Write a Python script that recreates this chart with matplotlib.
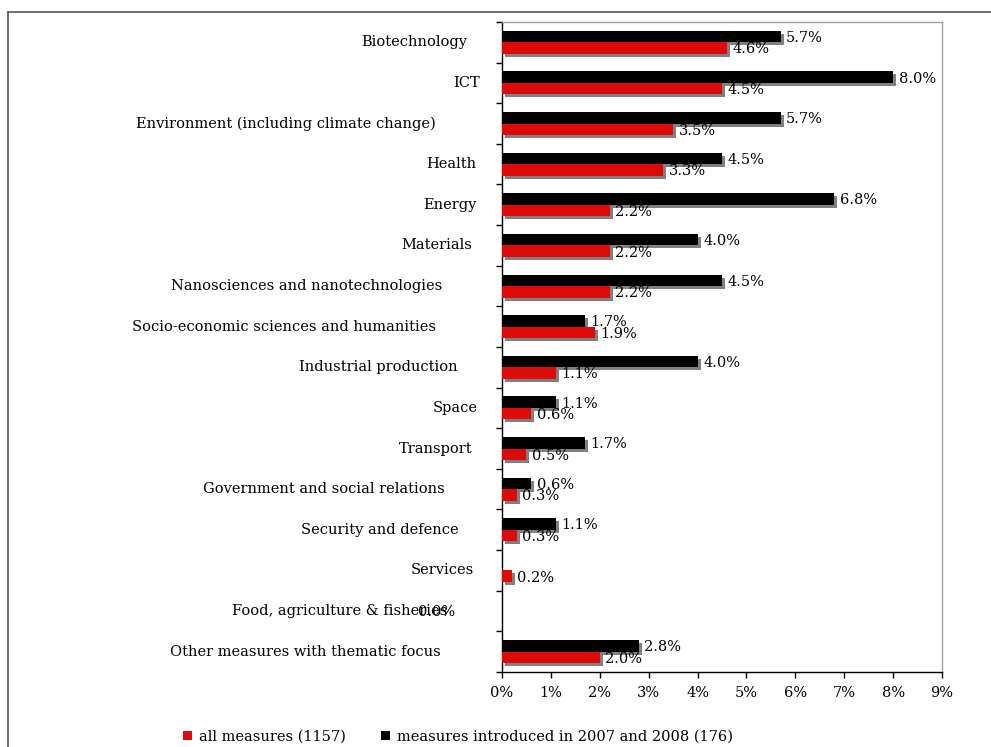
import matplotlib
matplotlib.use('Agg')
import matplotlib.pyplot as plt
from matplotlib.patches import Patch
from matplotlib.lines import Line2D
from matplotlib.transforms import ScaledTranslation
import numpy as np

# thematic areas, top to bottom
categories = [
    'Biotechnology', 'ICT', 'Environment (including climate change)', 'Health',
    'Energy', 'Materials', 'Nanosciences and nanotechnologies',
    'Socio-economic sciences and humanities', 'Industrial production', 'Space',
    'Transport', 'Government and social relations', 'Security and defence',
    'Services', 'Food, agriculture & fisheries', 'Other measures with thematic focus',
]
# share of measures, %
all_measures = [4.6, 4.5, 3.5, 3.3, 2.2, 2.2, 2.2, 1.9, 1.1, 0.6, 0.5, 0.3, 0.3, 0.2, 0.0, 2.0]
new_measures = [5.7, 8.0, 5.7, 4.5, 6.8, 4.0, 4.5, 1.7, 4.0, 1.1, 1.7, 0.6, 1.1, 0.0, 0.0, 2.8]
x_ticks = [0, 1, 2, 3, 4, 5, 6, 7, 8, 9]

label_all = 'all measures (1157)'
label_new = 'measures introduced in 2007 and 2008 (176)'

RED = '#dd0a0a'
SHADOW = '#808080'

plt.rcParams['font.family'] = ['DejaVu Serif']
plt.rcParams['font.size'] = 10.5

fig = plt.figure(figsize=(9.91, 7.47), dpi=100)
ax = fig.add_axes([502 / 991, 75 / 747, 440 / 991, 650 / 747])

y = np.arange(len(categories))
h = 0.284

# drop shadow: same bars shifted 3px right and 3px down
shadow = ax.transData + ScaledTranslation(3 / 100, -3 / 100, fig.dpi_scale_trans)
ax.barh(y - h / 2, new_measures, height=h, color=SHADOW, transform=shadow, zorder=1)
ax.barh(y + h / 2, all_measures, height=h, color=SHADOW, transform=shadow, zorder=1)
ax.barh(y - h / 2, new_measures, height=h, color='black', zorder=2)
ax.barh(y + h / 2, all_measures, height=h, color=RED, zorder=3)

food = 'Food, agriculture & fisheries'
for i, name in enumerate(categories):
    if name == food:
        continue
    if name != 'Services':
        ax.annotate(f'{new_measures[i]:.1f}%', xy=(new_measures[i], i - h / 2),
                    xytext=(4, -1), textcoords='offset points', ha='left', va='center', zorder=4)
    ax.annotate(f'{all_measures[i]:.1f}%', xy=(all_measures[i], i + h / 2),
                xytext=(4, -1), textcoords='offset points', ha='left', va='center', zorder=4)
fi = categories.index(food)
ax.annotate(f'{all_measures[fi]:.1f}%', xy=(all_measures[fi], fi),
            xytext=(-34, -1), textcoords='offset points', ha='right', va='center', zorder=4)

# category names, drawn by hand so the longer ones sit further left
for i, name in enumerate(categories):
    ax.annotate(name, xy=(0, i), xycoords=('axes fraction', 'data'),
                xytext=(-(18 + 1.26 * len(name)) * 0.72, 0), textcoords='offset points',
                ha='right', va='center')

ax.set_ylim(len(categories) - 0.5, -0.5)
ax.set_yticks(np.arange(-0.5, len(categories)))
ax.set_yticklabels([])
ax.tick_params(axis='y', direction='out', length=4, width=1, color='black')

ax.set_xlim(0, 9)
ax.set_xticks(x_ticks)
ax.set_xticklabels([f'{t}%' for t in x_ticks])
ax.tick_params(axis='x', direction='out', length=4, width=1, pad=6)

for s in ['left', 'bottom']:
    ax.spines[s].set_color('black')
    ax.spines[s].set_linewidth(1)
for s in ['top', 'right']:
    ax.spines[s].set_color('#a0a0a0')
    ax.spines[s].set_linewidth(1)

# outer frame around the figure
fig.add_artist(Line2D([8 / 991, 8 / 991], [0, 1 - 12 / 747], color='#555555', lw=1.2))
fig.add_artist(Line2D([8 / 991, 1], [1 - 12 / 747, 1 - 12 / 747], color='#555555', lw=1.2))

handles = [Patch(facecolor=RED, label=label_all), Patch(facecolor='black', label=label_new)]
fig.legend(handles=handles, loc='center', bbox_to_anchor=(458 / 991, 1 - 737 / 747), ncol=2,
           frameon=False, handlelength=0.6, handleheight=0.6, handletextpad=0.5,
           columnspacing=2.4, borderpad=0)

fig.savefig('out.png', dpi=100)
